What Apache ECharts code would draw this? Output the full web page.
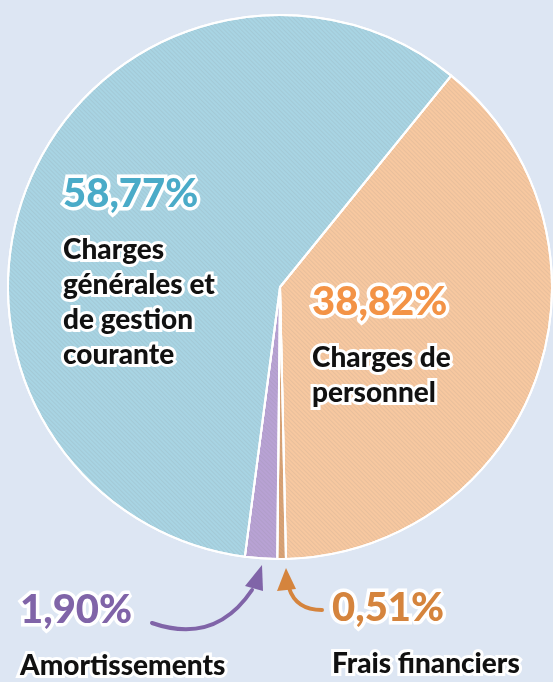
<!DOCTYPE html>
<html>
<head>
<meta charset="utf-8">
<script src="https://cdn.jsdelivr.net/npm/echarts@6/dist/echarts.min.js"></script>
<style>
  html, body { margin: 0; padding: 0; background: #dde6f3; }
  #chart { width: 553px; height: 682px; }
</style>
</head>
<body>
<div id="chart"></div>
<script>
// Data (clockwise from the top-right split)
const categories = ['Charges de personnel', 'Frais financiers', 'Amortissements', 'Charges générales et de gestion courante'];
const values = [38.82, 0.51, 1.90, 58.77];
const pctLabels = ['38,82%', '0,51%', '1,90%', '58,77%'];
const nameLines = [['Charges de', 'personnel'], ['Frais financiers'], ['Amortissements'], ['Charges', 'générales et', 'de gestion', 'courante']];

const sliceColors = ['#f7c8a0', '#d9a274', '#b8a2d4', '#a8d4e3'];
const pctColors = ['#f39346', '#d5843d', '#8064a8', '#4aabc8'];
// top-left corner of each label block
const labelPos = [[312, 265], [332, 571], [20, 573], [63, 157]];

const chart = echarts.init(document.getElementById('chart'));

const option = {
	backgroundColor: '#dde6f3',
	animation: false,
	series: [
		{
			type: 'pie',
			center: [280, 287],
			radius: 272,
			startAngle: 51,
			clockwise: true,
			avoidLabelOverlap: false,
			itemStyle: {
				borderColor: '#ffffff',
				borderWidth: 2
			},
			data: values.map((v, i) => ({
				name: categories[i],
				value: v,
				itemStyle: {
					color: sliceColors[i],
					decal: {
						symbol: 'rect',
						dashArrayX: [1, 0],
						dashArrayY: [1, 2],
						rotation: Math.PI / 4,
						color: 'rgba(120,120,120,0.12)'
					}
				},
				label: {
					rich: {
						p: { color: pctColors[i] }
					}
				}
			})),
			label: {
				show: true,
				position: 'inside',
				formatter: p => {
					const i = p.dataIndex;
					return `{p|${pctLabels[i]}}\n` + nameLines[i].map(l => `{t|${l}}`).join('\n');
				},
				textBorderColor: '#ffffff',
				textBorderWidth: 5,
				rich: {
					p: {
						fontFamily: 'Lato',
						fontWeight: 900,
						fontSize: 40,
						lineHeight: 75,
						textBorderColor: '#ffffff',
						textBorderWidth: 7
					},
					t: {
						fontFamily: 'Lato',
						fontWeight: 900,
						fontSize: 28,
						lineHeight: 35,
						color: '#111111',
						textBorderColor: '#ffffff',
						textBorderWidth: 6
					}
				}
			},
			labelLine: { show: false },
			labelLayout: params => ({
				x: labelPos[params.dataIndex][0],
				y: labelPos[params.dataIndex][1],
				align: 'left',
				verticalAlign: 'top'
			})
		}
	],
	graphic: [
		// purple arrow (Amortissements)
		{
			type: 'bezierCurve',
			shape: { x1: 152, y1: 623, x2: 252, y2: 590, cpx1: 215, cpy1: 645 },
			style: { stroke: '#8064a8', lineWidth: 4, fill: null, lineCap: 'round' }
		},
		{
			type: 'polygon',
			shape: { points: [[262, 565], [245, 586], [263, 591]] },
			style: { fill: '#8064a8' }
		},
		// orange arrow (Frais financiers)
		{
			type: 'bezierCurve',
			shape: { x1: 322, y1: 610, x2: 289, y2: 588, cpx1: 296, cpy1: 610 },
			style: { stroke: '#d5843d', lineWidth: 4, fill: null, lineCap: 'round' }
		},
		{
			type: 'polygon',
			shape: { points: [[286, 568], [277, 591], [296, 589]] },
			style: { fill: '#d5843d' }
		}
	]
};

chart.setOption(option);
</script>
</body>
</html>
